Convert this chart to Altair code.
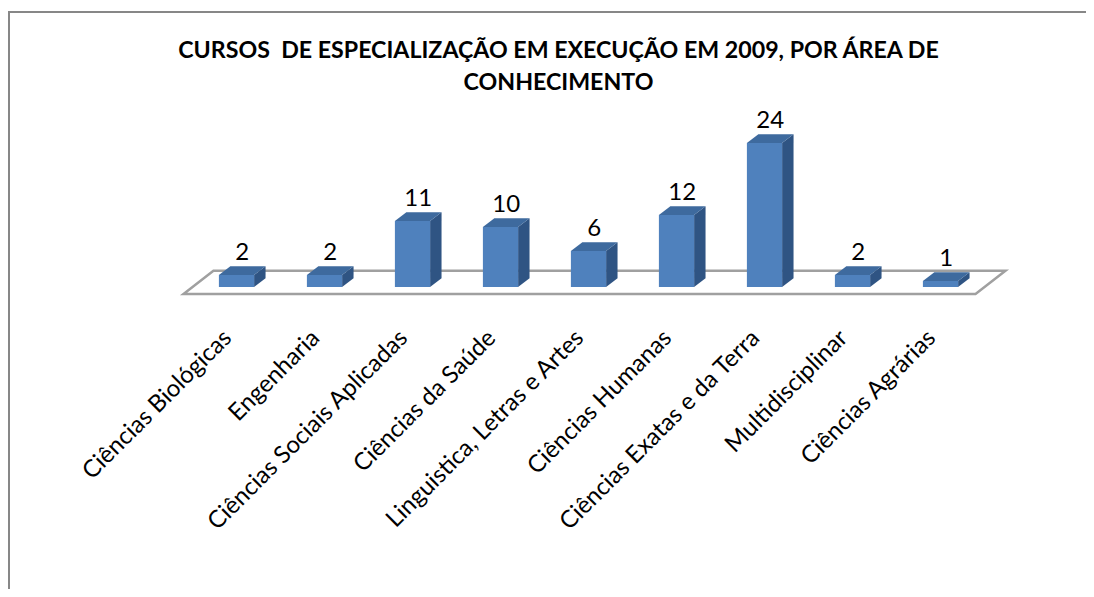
import altair as alt
import pandas as pd

categories = [
    "Ciências Biológicas", "Engenharia", "Ciências Sociais Aplicadas",
    "Ciências da Saúde", "Linguistica, Letras e Artes", "Ciências Humanas",
    "Ciências Exatas e da Terra", "Multidisciplinar", "Ciências Agrárias",
]
values = [2, 2, 11, 10, 6, 12, 24, 2, 1]
title_lines = ["CURSOS \u00a0DE ESPECIALIZAÇÃO EM EXECUÇÃO EM 2009, POR ÁREA DE", "CONHECIMENTO"]

# 3D styling constants (in scale units)
HALF = 0.2          # half width of bar front face (band units)
DX = 0.13           # depth shift in x (band units)
DY = 1.45           # depth shift in y (value units)
FLOOR_DX = 0.34
FLOOR_DY = 3.85
FLOOR_FRONT = 0.3   # fraction of floor depth in front of the bars
n = len(categories)

FRONT = "#4F81BD"
TOP = "#3E6A9E"
SIDE = "#2F5483"

idx = list(range(n))
front = pd.DataFrame({"cat": categories, "i": idx, "v": values,
                      "xl": [i - HALF for i in idx], "xr": [i + HALF for i in idx],
                      "lx": [i + DX / 2 for i in idx],
                      "ly": [v + DY for v in values]})

side_rows, top_rows = [], []
for i, (c, v) in enumerate(zip(categories, values)):
    side_rows.append({"cat": c, "x": i + HALF, "y": 0, "y2": v})
    side_rows.append({"cat": c, "x": i + HALF + DX, "y": DY, "y2": v + DY})
    top_rows.append({"cat": c, "y": v, "x": i - HALF, "x2": i + HALF})
    top_rows.append({"cat": c, "y": v + DY, "x": i - HALF + DX, "x2": i + HALF + DX})
side = pd.DataFrame(side_rows)
top = pd.DataFrame(top_rows)

fy0 = -FLOOR_FRONT * FLOOR_DY
fx0 = -FLOOR_FRONT * FLOOR_DX
floor = pd.DataFrame({
    "y": [fy0, fy0 + FLOOR_DY],
    "x": [-0.5 + fx0, -0.5 + fx0 + FLOOR_DX],
    "x2": [n - 0.5 + fx0, n - 0.5 + fx0 + FLOOR_DX],
})

xs = alt.Scale(domain=[-0.5, n - 0.5], nice=False, zero=False)
ys = alt.Scale(domain=[0, 25], nice=False, zero=False)

label_expr = "[" + ",".join("'" + c + "'" for c in categories) + "][datum.value]"

xaxis = alt.Axis(values=idx, labelExpr=label_expr, labelAngle=-45, labelAlign="right",
                 labelBaseline="middle", labelPadding=47, labelOffset=-9, labelFont="Lato",
                 labelFontSize=24, labelColor="black", labelLimit=500,
                 ticks=False, tickSize=0, domain=False, grid=False, title=None,
                 labelOverlap=False)

border = alt.Chart(pd.DataFrame({"a": [0]})).mark_rect(
    fill=None, stroke="#878787", strokeWidth=2
).encode(x=alt.value(-183.5), x2=alt.value(1200), y=alt.value(-125), y2=alt.value(700))

floor_l = alt.Chart(floor).mark_area(orient="horizontal", fill="white", stroke="#A0A0A0",
                                     strokeWidth=2.5).encode(
    y=alt.Y("y:Q", scale=ys, axis=None),
    x=alt.X("x:Q", scale=xs, axis=xaxis),
    x2="x2:Q",
)

side_l = alt.Chart(side).mark_area(orient="vertical", color=SIDE).encode(
    x=alt.X("x:Q", scale=xs, axis=xaxis),
    y=alt.Y("y:Q", scale=ys, axis=None),
    y2="y2:Q",
    detail="cat:N",
)

top_l = alt.Chart(top).mark_area(orient="horizontal", color=TOP).encode(
    y=alt.Y("y:Q", scale=ys, axis=None),
    x=alt.X("x:Q", scale=xs, axis=xaxis),
    x2="x2:Q",
    detail="cat:N",
)

front_l = alt.Chart(front).mark_rect(color=FRONT).encode(
    x=alt.X("xl:Q", scale=xs, axis=xaxis),
    x2="xr:Q",
    y=alt.Y("v:Q", scale=ys, axis=None),
    y2=alt.datum(0),
)

text_l = alt.Chart(front).mark_text(font="Lato", fontSize=24, color="black",
                                    baseline="middle", dy=-13).encode(
    x=alt.X("lx:Q", scale=xs, axis=xaxis),
    y=alt.Y("ly:Q", scale=ys, axis=None),
    text="v:Q",
)

chart = alt.layer(border, floor_l, side_l, top_l, front_l, text_l).properties(
    width=792, height=150,
    background="white",
    title=alt.TitleParams(text=title_lines, font="Lato", fontSize=23.2, fontWeight="bold",
                          color="black", anchor="middle", frame="group", dx=-30,
                          lineHeight=32, offset=0, dy=84),
    autosize=alt.AutoSizeParams(type="none"),
    padding={"left": 184.5, "top": 129, "right": 101.5, "bottom": 302},
).configure_view(strokeWidth=0, stroke="transparent")

chart.save("out.html", embed_options={"renderer": "svg", "actions": False})
